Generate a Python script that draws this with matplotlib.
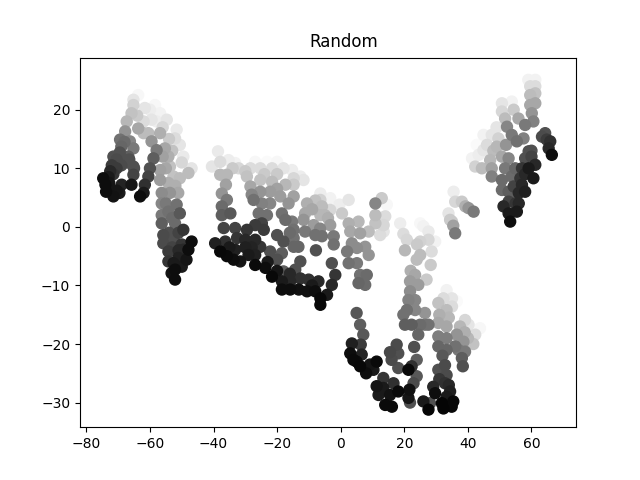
import numpy as np
import matplotlib
matplotlib.use('Agg')
import matplotlib.pyplot as plt

# (x, y, gray), one list per blob
left_blob = [(-74.7,8.3,.05),(-74,7.2,.05),(-73.8,6,.05),(-72.8,7.5,.08),(-71.5,5.2,.07),(-70.5,6.2,.08),
    (-69.6,5.8,.1),(-68.9,7.2,.13),(-73,8.5,.1),(-72.5,9.5,.15),(-71.5,9,.2),(-70.5,10,.22),(-72,10.5,.22),
    (-70.5,11.5,.28),(-69,10.5,.28),(-71.5,12,.3),(-69.5,12.7,.3),(-68.5,11.5,.3),(-67,11,.3),(-65,10,.3),
    (-69,13.7,.38),(-68,14.5,.4),(-66.5,11.5,.3),(-69.4,14.9,.42),(-67.8,16.3,.55),(-67.3,18,.68),
    (-65.8,19.4,.72),(-65.2,20.8,.78),(-65.2,21.7,.85),(-63.7,22.5,.92),(-62.6,23.4,.97),(-66.3,14.6,.5),
    (-65.2,13.4,.45),(-66.8,12,.35),(-65.2,10.3,.3),(-65.2,8.9,.25),(-65.8,7.2,.08),(-63.1,5.2,.05),
    (-62,5.8,.1),(-61.6,7.2,.18),(-60.5,8.6,.25),(-60,10,.3),(-58.9,11.7,.35),(-57.9,13.1,.45),
    (-59.5,14.6,.55),(-60.5,16,.7),(-63.7,16.8,.62),(-59.5,18.3,.85),(-57.9,18,.88),(-61.6,20.3,.85),
    (-58.4,20.8,.92),(-56.8,19.4,.9),(-54.7,18.3,.85),(-56.8,16,.65),(-55.3,13.4,.62),(-54.2,12,.65),
    (-52.1,15.1,.82),(-51.6,16.6,.87),(-50.6,14,.85),(-49.5,12,.87),(-46.4,12,.95),(-46.9,10,.85),
    (-47.9,9.2,.7),(-50.6,8.3,.7),(-52.6,8.6,.72),(-53.7,10.3,.72),(-56.8,9.7,.6),(-56.8,8,.58),
    (-54.2,7.5,.65),(-51.1,5.8,.62),(-53.7,5.8,.55),(-56.3,5.8,.52),(-56.3,4,.5),(-56.3,2,.45),
    (-54.2,2.6,.42),(-51.6,3.8,.42),(-50.6,2.3,.33),(-52.1,.6,.4),(-56.3,.6,.35),(-55.8,-1.4,.28),
    (-55.8,-2.8,.28),(-52.6,-2.2,.3),(-49.5,-.5,.2),(-46.9,-2.5,.05),(-47.9,-3.9,.05),(-48.5,-5.6,.08),
    (-50,-6.8,.1),(-54.2,-4.2,.22),(-54.2,-5.9,.2),(-52.6,-6.2,.1),(-52.1,-7.3,.05),(-52.1,-9,.05),
    (-53.2,-7.9,.07),(-49.5,-3.9,.15),(-51.1,-5.3,.12),(-62,18,.82),(-60,20,.88),(-56,17,.8),(-54,15,.75),
    (-53,13,.72),(-50,11,.8),(-56,12,.6),(-55,10,.62),(-52,7,.65),(-55,4,.45),(-53,1.5,.4),(-54,-1,.3),
    (-51,-1,.25),(-50,-3,.2),(-53,-3.5,.25),(-51,-4,.15),(-64,19,.75),(-62,16,.7)]

middle_blob = [(-40.5,10.3,.85),(-38.6,12.9,.87),(-36.3,14,.97),(-35.3,11.4,.88),(-37.9,11.1,.82),(-32.1,10,.8),
    (-33.2,10.9,.9),(-37.9,8.9,.68),(-35.8,8.9,.68),(-36.1,7.2,.6),(-37.4,5.7,.55),(-35.8,4.6,.45),
    (-37.4,3.5,.4),(-37.4,2,.35),(-34.7,2.3,.33),(-36.8,-.2,.25),(-33.2,-.2,.25),(-39.5,-2.8,.12),
    (-36.3,-2.5,.18),(-32.6,-1.9,.2),(-29.5,-.5,.2),(-26.9,.3,.22),(-24.8,.6,.25),(-24.2,-.5,.22),
    (-30,-2.2,.15),(-26.9,-2.2,.15),(-25.3,-3.4,.2),(-33.2,-3.9,.12),(-37.9,-4.2,.03),(-35.8,-5,.04),
    (-33.7,-5.6,.05),(-31.6,-5.9,.08),(-29,-4.8,.1),(-26.9,-4.8,.12),(-26.9,-6.5,.04),(-23.7,-7,.05),
    (-21.6,-8.5,.03),(-18.5,-9.3,.1),(-18.5,-10.7,.05),(-15.9,-10.7,.05),(-13.2,-10.7,.06),(-10.6,-11,.06),
    (-8,-11,.05),(-6.4,-12.2,.03),(-6.4,-13.3,.03),(-4.3,-11.6,.1),(-2.8,-9.9,.15),(-1.7,-8.2,.2),
    (-2.8,-6.2,.3),(-15.9,-9.3,.15),(-12.7,-8.8,.18),(-10.1,-9,.18),(-7,-9.3,.15),(-14.3,-7.3,.3),
    (-12.7,-5.9,.3),(-18,-7.6,.35),(-22.2,-4.2,.3),(-20,-5.6,.3),(-18.5,-4.5,.35),(-20,-1.4,.3),
    (-18,-2.5,.3),(-14.8,-3.4,.38),(-14.8,-1.9,.42),(-13.3,-3.4,.38),(-7.8,-4,.3),(-11.2,-.8,.45),
    (-8,-1.4,.42),(-5.9,-1.6,.42),(-2.2,-1.6,.45),(-2.2,-3,.42),(-18.5,2.3,.42),(-17.4,1.2,.4),
    (-14.8,-.5,.42),(-15.3,.9,.45),(-11.7,1.2,.55),(-8.5,.3,.58),(-3.3,.3,.58),(-6.4,2,.68),
    (-11.2,2.3,.62),(-10.6,4,.65),(-5.9,3.5,.7),(-6.4,4.6,.78),(-3.3,2.9,.8),(-6.4,5.7,.88),(-3.3,4.9,.9),
    (-27.4,4.6,.42),(-25.8,2.3,.42),(-23.2,2,.42),(-22.2,4,.5),(-24.8,4,.48),(-28.4,6.9,.62),(-25.3,6,.55),
    (-22.2,6,.58),(-19,5.2,.58),(-16.4,4,.55),(-14.8,5.2,.6),(-17.4,7.2,.68),(-25.3,8,.72),(-21.6,7.7,.7),
    (-14.8,7.2,.75),(-29.5,8.6,.72),(-28.4,10,.82),(-25.3,10,.82),(-21.6,10,.82),(-18,10,.85),(-15.3,9.7,.88),
    (-14.8,8.3,.8),(-11.7,8,.85),(-26.9,11.1,.92),(-23.2,11.1,.93),(-20,11.1,.92),(-17.4,11.7,.95),(-12.7,8.6,.88),
    (-.4,3.8,.88),(2.5,4.6,.85),(4,6.3,.95),(.4,2.3,.75),(2.5,.6,.65),(5.6,.9,.68),(3,-.8,.62),(6.1,-1.1,.6),
    (8.8,-.8,.7),(10.9,4,.5),(12.9,4.9,.75),(14.5,3.8,.92),(10.9,2,.7),(14,1.8,.82),(13.5,-.8,.85),(12.4,-1.4,.82),
    (13.5,.3,.8),(10.9,.6,.72),(3.5,-2.8,.52),(5.1,-3.6,.52),(7.7,-3.4,.55),(8.8,-4.8,.55),(2,-4.2,.45),
    (2.5,-6.2,.42),(5.1,-6.2,.45),(8.2,-8.2,.4),(6.1,-8.2,.42),(5.6,-9.6,.38),(7.7,-9.9,.4),
    (-34,10,.75),(-30,9.5,.75),(-24,9,.75),(-20,9,.75),(-28,5.5,.5),(-20,6.5,.6),(-9,3,.62),(-8,4.5,.72),
    (-5,2,.68),(-4,1.5,.65),(-6.5,-.3,.5),(-16,-1,.4),(-23,-6,.1),(-20,-7.5,.08),(-16,-8,.15),(-9,-10,.1),
    (-30,-3.5,.12),(-35,-3.5,.1),(-28,-3.5,.13)]

bottom_blob = [(5,-14.7,.32),(6.1,-16.7,.35),(7.1,-18.4,.33),(3.5,-19.9,.12),(6.3,-20.1,.22),(3,-21.6,.05),
    (4,-22.7,.04),(6.1,-23.8,.03),(6.6,-21.8,.13),(9.2,-23.5,.08),(11.3,-23,.04),(10.3,-24.4,.1),(17.6,-20.1,.28),
    (15.5,-21.4,.27),(18.1,-21.6,.3),(16,-22.7,.28),(18.1,-24.1,.3),(23.1,-20.5,.3),(23.9,-22.7,.35),(22.3,-23.8,.18),
    (21.3,-24.4,.03),(13.4,-25.8,.2),(16.6,-26.7,.18),(11.3,-27.2,.08),(13.4,-27.5,.1),(11.9,-28.7,.1),(15.5,-28.7,.07),
    (18.1,-28.1,.04),(14,-30.4,.04),(16.1,-30.7,.04),(23.9,-25.5,.33),(22.9,-26.7,.28),(21.6,-27.8,.06),(21.3,-29.2,.08),
    (21.8,-30,.3),(26,-29.8,.1),(28.1,-30.1,.3),(27.6,-31.2,.02),(29.1,-27.3,.15),(29.7,-28.4,.05),(31.8,-30.1,.02),
    (32.3,-31,.02),(34.9,-30.7,.03),(35.4,-29.8,.03),(33.3,-29,.1),(32.8,-26.7,.18),(34.4,-28.1,.12),(32.8,-23.6,.28),
    (30.7,-24.4,.3),(33.3,-25.3,.28),(30.7,-20.4,.38),(33.3,-21,.38),(30.7,-18.7,.47),(33.3,-19,.47),(30.7,-16.4,.62),
    (33.3,-17,.62),(30.7,-13,.72),(33.3,-14.2,.7),(32.3,-12.2,.82),(33.3,-10.8,.9),(35,-13.6,.82),(36.5,-12.7,.93),
    (35,-12.2,.85),(38.4,-23.8,.3),(38.1,-22.4,.35),(39.1,-21.3,.45),(38.6,-19.6,.55),(36,-20.4,.42),(36.5,-18.4,.55),
    (37.5,-17,.68),(39.1,-15.9,.8),(41.7,-20,.72),(42.3,-18.4,.82),(43.8,-17.3,.92),(40.2,-16.7,.85),(20.2,-16.7,.35),
    (19.7,-15,.42),(21.3,-12.5,.48),(23.4,-12.5,.5),(23.4,-14.2,.5),(20.8,-14.2,.42),(22.3,-16.7,.35),(26.5,-14.7,.55),
    (26.5,-16.7,.45),(25,-16.7,.4),(27.6,-16.7,.42),(24.4,-18.4,.38),(21.8,-9.3,.58),(24.4,-9.9,.58),(21.8,-11,.52),
    (23.4,-8.2,.62),(27,-9,.75),(19.7,-1.2,.82),(18.7,.6,.88),(20.2,-4,.68),(20.8,-2.2,.8),(23.9,-5.6,.7),(25,-4.8,.7),
    (28.3,-6.5,.75),(25,-2.5,.78),(27.6,-2.2,.8),(28.6,-4.2,.82),(26,.1,.9),(27.6,-.8,.87),(29.7,-2.5,.9),(25,.6,.92),
    (24,-3,.75),(22,-7.5,.65),(31,-15,.65),(34,-15.5,.68),(32,-22,.33),(31,-26,.2),(34,-27,.15),(39,-18,.65),
    (40,-19,.68),(37,-21,.45),(8,-25,.05),(5,-23,.05)]

small_blob = [(35.5,6,.88),(36,4.3,.8),(38.1,4.3,.75),(39.2,3.5,.65),(41.8,2.6,.45),(40.2,3.2,.55),
    (33.9,2.3,.85),(35,.9,.75),(36,-1.1,.45),(34.4,1.2,.75),(35.4,.2,.6)]

right_blob = [(41.3,11.7,.9),(42.3,10.3,.78),(43.4,12.3,.88),(44.4,10,.7),(42.8,14,.93),(44.9,13.1,.85),(47,11.4,.68),
    (47.5,10,.6),(47.5,8.6,.48),(44.9,15.7,.9),(47,17.4,.95),(47.5,15.7,.85),(49.1,13.7,.68),(50.7,12,.62),(52.8,11.7,.5),
    (51.7,10,.45),(54.9,10,.38),(50.7,8,.4),(53.8,8.6,.4),(50.7,6.3,.4),(52.8,6,.35),(49.6,15.1,.78),(50.7,21.1,.85),
    (50.7,19.7,.8),(51.7,18.5,.7),(52.3,17.1,.5),(53.8,21.4,.9),(54.4,20,.75),(55.9,18.5,.62),(53.8,15.7,.45),(55.4,14.6,.42),
    (57.5,15.1,.48),(58,17.4,.45),(60.6,18,.48),(60.1,19.4,.55),(59.6,20.8,.62),(59.6,22.5,.7),(59.6,24,.82),(61.2,24,.82),
    (59,25.1,.9),(61.2,25.1,.9),(61.2,22.8,.72),(61.2,21.1,.62),(59.1,12.9,.3),(61.2,10.6,.15),(59.1,10,.1),(60.6,8.3,.1),
    (58,11.7,.3),(64.3,16,.3),(63.3,15.4,.28),(65.9,14.6,.18),(65.4,13.4,.15),(66.4,12.3,.05),(64.8,14.9,.22),(56.5,8.3,.2),
    (57,7.2,.15),(56,5.8,.15),(56,4,.15),(55.4,2.6,.1),(53.3,.9,.05),(52.8,2.3,.1),(51.2,3.5,.15),(52.8,4.3,.25),(53.8,5.5,.35),
    (54.4,6.9,.25),(49,17,.85),(52,14,.55),(48,13,.7),(46,14,.82),(58,9,.15),(58,6,.12),(55,4,.2),(57,10,.2),
    (60,13,.3),(60,12,.25)]

# dark dots sit on top of the light ones
puntos = np.array(left_blob + middle_blob + bottom_blob + small_blob + right_blob)
puntos = puntos[np.argsort(-puntos[:, 2])]

fig, ax = plt.subplots(figsize=(6.4, 4.8), dpi=100)
ax.scatter(puntos[:, 0], puntos[:, 1], c=puntos[:, 2], cmap='gray', vmin=0, vmax=0.95, s=62)
ax.set_xlim(-82, 74)
ax.set_ylim(-34.2, 28.9)
ax.set_title('Random', x=0.532, pad=7.5)
fig.savefig('out.png')
